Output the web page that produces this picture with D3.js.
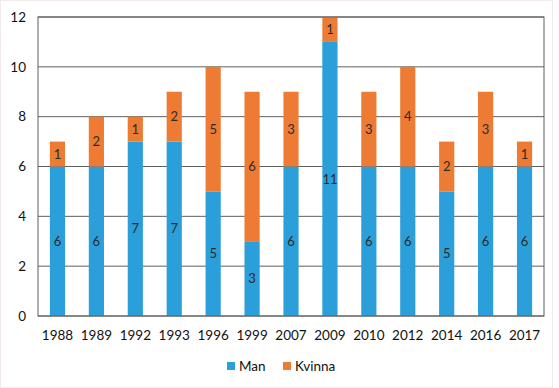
<!DOCTYPE html>
<html><head><meta charset="utf-8">
<script src="https://cdn.jsdelivr.net/npm/d3@7"></script>
<style>body{margin:0;background:#fff}</style>
</head><body>
<svg id="c" width="559" height="388"></svg>
<script>
const years = ["1988","1989","1992","1993","1996","1999","2007","2009","2010","2012","2014","2016","2017"];
const man = [6,6,7,7,5,3,6,11,6,6,5,6,6];
const kvinna = [1,2,1,2,5,6,3,1,3,4,2,3,1];
const seriesNames = ["Man","Kvinna"];
const colors = ["#2A9FD9","#EE7B33"];
const yTicks = [0,2,4,6,8,10,12];

const svg = d3.select("#c");
const font = "Lato, 'Open Sans', sans-serif";
svg.append("rect").attr("x",0.5).attr("y",0.5).attr("width",552).attr("height",387).attr("fill","#fff").attr("stroke","#f3eaea");

const L=38, R=544, T=17, B=316;
const x = d3.scaleBand().domain(years).range([L,R]).paddingInner(0.61).paddingOuter(0.305);
const y = d3.scaleLinear().domain([0,12]).range([B,T]);

svg.append("g").selectAll("line").data(yTicks).join("line")
  .attr("x1",L).attr("x2",R).attr("y1",d=>y(d)).attr("y2",d=>y(d))
  .attr("stroke","#5e5e5e").attr("stroke-width",1);

const table = years.map((yr,i)=>({year:yr, Man:man[i], Kvinna:kvinna[i]}));
const stack = d3.stack().keys(seriesNames)(table);

const g = svg.append("g");
stack.forEach((s,si)=>{
  g.selectAll(null).data(s).join("rect")
    .attr("x",d=>x(d.data.year)).attr("width",x.bandwidth())
    .attr("y",d=>y(d[1])).attr("height",d=>y(d[0])-y(d[1]))
    .attr("fill",colors[si]);
  g.selectAll(null).data(s).join("text")
    .attr("x",d=>x(d.data.year)+x.bandwidth()/2)
    .attr("y",d=>(y(d[0])+y(d[1]))/2)
    .attr("dy","0.35em").attr("text-anchor","middle")
    .attr("font-family",font).attr("font-size",13).attr("fill","#2b2b2b")
    .text(d=>d[1]-d[0]);
});

svg.append("rect").attr("x",L).attr("y",T).attr("width",R-L).attr("height",B-T)
  .attr("fill","none").attr("stroke","#5e5e5e").attr("stroke-width",1);

const ya = svg.append("g").attr("transform",`translate(${L},0)`)
  .call(d3.axisLeft(y).tickValues(yTicks).tickSize(0).tickPadding(12));
ya.select(".domain").remove();
ya.selectAll("text").attr("font-family",font).attr("font-size",13.5).attr("fill","#111");

const xa = svg.append("g").attr("transform",`translate(0,${B})`)
  .call(d3.axisBottom(x).tickSize(0).tickPadding(14));
xa.select(".domain").remove();
xa.selectAll("text").attr("font-family",font).attr("font-size",13.5).attr("fill","#111");

const leg = svg.append("g").attr("transform","translate(227,366)");
const items = [{n:"Man",c:colors[0],x:0},{n:"Kvinna",c:colors[1],x:56}];
items.forEach(it=>{
  leg.append("rect").attr("x",it.x).attr("y",-4).attr("width",8).attr("height",8).attr("fill",it.c);
  leg.append("text").attr("x",it.x+12).attr("y",0).attr("dy","0.35em")
    .attr("font-family",font).attr("font-size",13.5).attr("fill","#111").text(it.n);
});
</script>
</body></html>
